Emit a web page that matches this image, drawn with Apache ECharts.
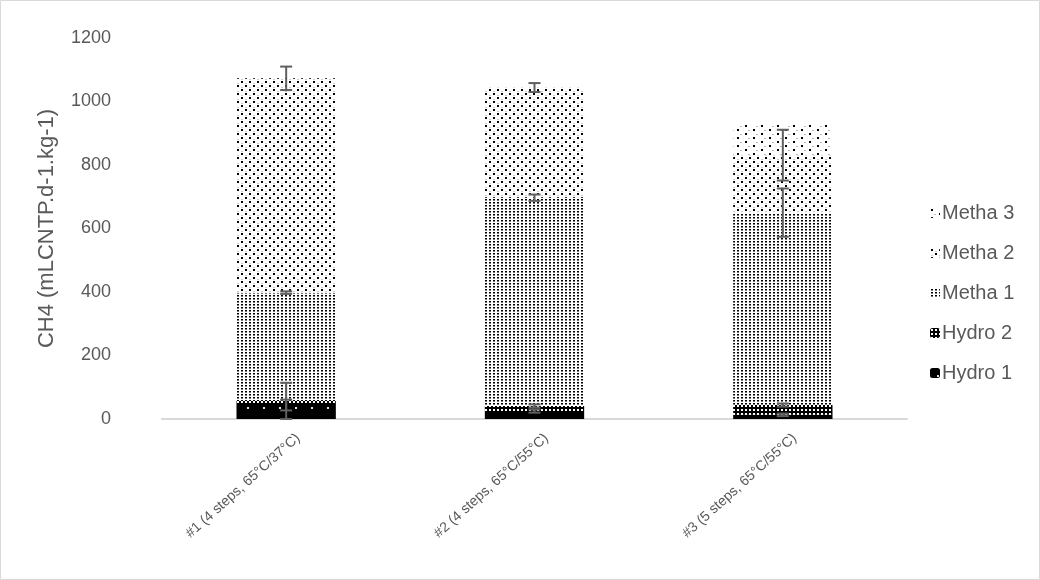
<!DOCTYPE html>
<html>
<head>
<meta charset="utf-8">
<script src="https://cdn.jsdelivr.net/npm/echarts@6/dist/echarts.min.js"></script>
<style>
html,body{margin:0;padding:0;background:#fff;}
#main{width:1040px;height:580px;}
</style>
</head>
<body>
<div id="main"></div>
<script>
// ---- data ----
const categories = ['#1 (4 steps, 65°C/37°C)', '#2 (4 steps, 65°C/55°C)', '#3 (5 steps, 65°C/55°C)'];
const seriesNames = ['Hydro 1', 'Hydro 2', 'Metha 1', 'Metha 2', 'Metha 3'];
const hydro1 = [44, 25, 13];
const hydro2 = [13, 16, 31];
const metha1 = [341, 656, 606];
const metha2 = [675, 347, 181];
const metha3 = [0, 0, 98];
// symmetric error (± value), drawn at the cumulative top of each segment
const errHydro1 = [17, 5, 4];
const errHydro2 = [57, 5, 5];
const errMetha1 = [4, 10, 76];
const errMetha2 = [37, 14, 80];
const errMetha3 = [0, 0, 0];
const yTicks = [0, 200, 400, 600, 800, 1000, 1200];

// ---- patterns ----
function makePattern(w, h, bg, draw) {
  const c = document.createElement('canvas');
  c.width = w; c.height = h;
  const ctx = c.getContext('2d');
  ctx.fillStyle = bg; ctx.fillRect(0, 0, w, h);
  draw(ctx);
  return { image: c, repeat: 'repeat' };
}
function px(ctx, col, x, y, w, h) { ctx.fillStyle = col; ctx.fillRect(x, y, w || 1, h || 1); }

const patHydro1 = makePattern(16, 16, '#000', ctx => { px(ctx, '#ddd', 7, 7, 2, 2); });
const patHydro2 = makePattern(4, 4, '#000', ctx => { px(ctx, '#fff', 1, 1, 2, 2); });
const patMetha1 = makePattern(4, 3, '#fff', ctx => { px(ctx, '#000', 1, 1, 2, 1); px(ctx, '#777', 1, 2, 2, 1); });
const patMetha2 = makePattern(8, 8, '#fff', ctx => {
  px(ctx, '#000', 1, 1, 2, 2);
  px(ctx, '#000', 5, 5, 2, 2);
  px(ctx, '#ccc', 5, 3, 2, 1);
  px(ctx, '#ccc', 1, 7, 2, 1);
});
const patMetha3 = makePattern(16, 8, '#fff', ctx => {
  px(ctx, '#000', 1, 1, 2, 2);
  px(ctx, '#000', 9, 5, 2, 2);
  px(ctx, '#bbb', 12, 2, 2, 1);
  px(ctx, '#bbb', 4, 6, 2, 1);
});
const patterns = [patHydro1, patHydro2, patMetha1, patMetha2, patMetha3];
const values = [hydro1, hydro2, metha1, metha2, metha3];
const errors = [errHydro1, errHydro2, errMetha1, errMetha2, errMetha3];

const series = seriesNames.map((n, i) => ({
  name: n,
  type: 'bar',
  stack: 'total',
  barWidth: '40%',
  data: values[i],
  itemStyle: { color: patterns[i] },
  emphasis: { disabled: true }
}));

// error bars
const errData = [];
for (let c = 0; c < categories.length; c++) {
  let cum = 0;
  for (let s = 0; s < values.length; s++) {
    cum += values[s][c];
    if (errors[s][c] > 0 && values[s][c] > 0) errData.push([c, cum, errors[s][c]]);
  }
}
series.push({
  type: 'custom',
  name: 'err',
  silent: true,
  z: 10,
  data: errData,
  renderItem: function (params, api) {
    const x = api.value(0), y = api.value(1), e = api.value(2);
    const top = api.coord([x, y + e]);
    const bot = api.coord([x, y - e]);
    const hw = 6;
    const style = { stroke: '#5f5f5f', lineWidth: 2, fill: null };
    return {
      type: 'group',
      children: [
        { type: 'line', shape: { x1: top[0], y1: top[1], x2: bot[0], y2: bot[1] }, style },
        { type: 'line', shape: { x1: top[0] - hw, y1: top[1], x2: top[0] + hw, y2: top[1] }, style },
        { type: 'line', shape: { x1: bot[0] - hw, y1: bot[1], x2: bot[0] + hw, y2: bot[1] }, style }
      ]
    };
  }
});

const FONT = 'Liberation Sans, Arial, sans-serif';
const chart = echarts.init(document.getElementById('main'), null, { renderer: 'canvas' });
chart.setOption({
  animation: false,
  backgroundColor: '#fff',
  textStyle: { fontFamily: FONT },
  graphic: [{
    type: 'rect', shape: { x: 0.5, y: 0.5, width: 1039, height: 579 },
    style: { fill: null, stroke: '#d9d9d9', lineWidth: 1 }, silent: true
  }],
  grid: { left: 162, right: 133, top: 38, bottom: 161, containLabel: false },
  legend: {
    orient: 'vertical',
    left: 925,
    top: 198,
    data: seriesNames.slice().reverse(),
    itemWidth: 10,
    itemHeight: 10,
    itemGap: 20,
    textStyle: { color: '#595959', fontSize: 20, fontFamily: FONT, padding: [0, 0, 0, -3] },
    selectedMode: false
  },
  xAxis: {
    type: 'category',
    data: categories,
    axisLine: { lineStyle: { color: '#d9d9d9', width: 2 } },
    axisTick: { show: false },
    axisLabel: {
      rotate: 42, color: '#595959', fontSize: 14, margin: 28, interval: 0,
      padding: [0, -16, 0, 0]
    }
  },
  yAxis: {
    type: 'value',
    min: yTicks[0],
    max: yTicks[yTicks.length - 1],
    interval: yTicks[1] - yTicks[0],
    name: 'CH4 (mLCNTP.d-1.kg-1)',
    nameLocation: 'middle',
    nameGap: 104,
    nameTextStyle: { color: '#595959', fontSize: 22 },
    axisLine: { show: false },
    axisTick: { show: false },
    splitLine: { show: false },
    axisLabel: { color: '#595959', fontSize: 18, margin: 51, formatter: v => String(v) }
  },
  series: series
});
</script>
</body>
</html>
